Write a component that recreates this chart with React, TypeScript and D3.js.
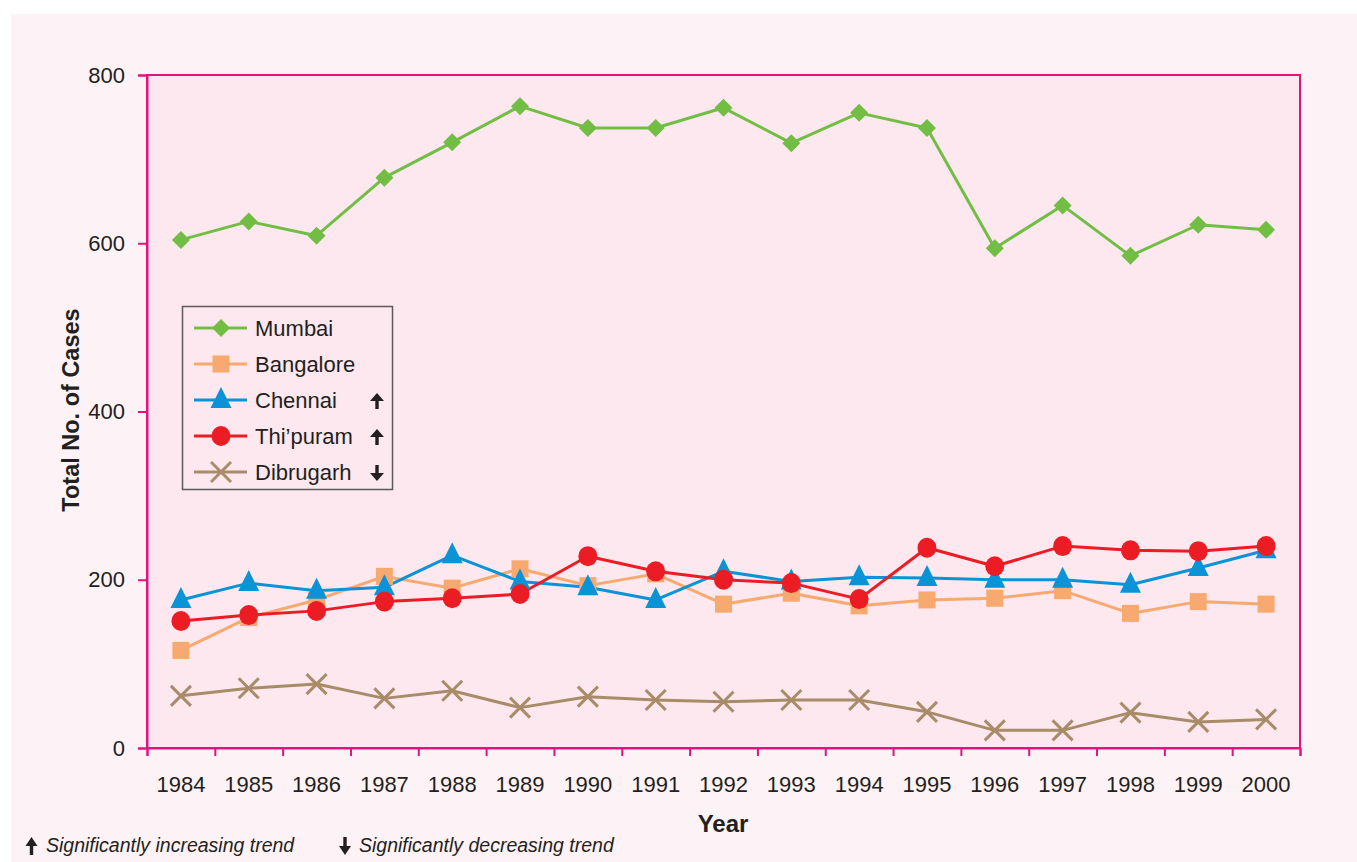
import React, { useRef, useEffect } from 'react';
import * as d3 from 'd3';

const years = ['1984', '1985', '1986', '1987', '1988', '1989', '1990', '1991', '1992', '1993', '1994', '1995', '1996', '1997', '1998', '1999', '2000'];
const mumbai = [604, 626, 609, 678, 720, 763, 737, 737, 761, 719, 755, 737, 594, 645, 585, 622, 616];
const bangalore = [116, 155, 176, 204, 190, 213, 193, 207, 171, 184, 169, 176, 178, 187, 160, 174, 171];
const chennai = [176, 196, 187, 191, 229, 198, 191, 176, 210, 198, 203, 202, 200, 200, 194, 214, 235];
const thiruvananthapuram = [151, 158, 163, 174, 178, 183, 228, 210, 200, 196, 177, 238, 216, 240, 235, 234, 240];
const dibrugarh = [62, 71, 76, 59, 68, 48, 61, 57, 55, 57, 57, 43, 21, 21, 42, 31, 34];
const yTicks = [0, 200, 400, 600, 800];

const FONT = '"Liberation Sans", Arial, sans-serif';
const AXIS = '#e0147f';
const INK = '#231f20';

const series = [
  { name: 'Mumbai', values: mumbai, color: '#72be44', symbol: 'diamond', trend: '' },
  { name: 'Bangalore', values: bangalore, color: '#f8a970', symbol: 'square', trend: '' },
  { name: 'Chennai', values: chennai, color: '#0a93d6', symbol: 'triangle', trend: 'up' },
  { name: 'Thi\u2019puram', values: thiruvananthapuram, color: '#ec1c24', symbol: 'circle', trend: 'up' },
  { name: 'Dibrugarh', values: dibrugarh, color: '#a88b68', symbol: 'cross', trend: 'down' },
];

// draws a marker centred on (0,0) inside g
function drawMarker(g: any, symbol: string, color: string) {
  if (symbol === 'diamond') {
    g.append('path').attr('d', 'M0,-9L9,0L0,9L-9,0Z').attr('fill', color);
  } else if (symbol === 'square') {
    g.append('rect').attr('x', -8.5).attr('y', -8.5).attr('width', 17).attr('height', 17).attr('fill', color);
  } else if (symbol === 'triangle') {
    g.append('path').attr('d', 'M0,-13L10.5,8L-10.5,8Z').attr('fill', color);
  } else if (symbol === 'circle') {
    g.append('ellipse').attr('rx', 9.5).attr('ry', 10).attr('fill', color);
  } else {
    g.append('path').attr('d', 'M-10,-10L10,10M-10,10L10,-10').attr('stroke', color).attr('stroke-width', 3).attr('fill', 'none');
  }
}

// small black trend arrow, centred on (x,y); h = height, w = head width
function arrow(g: any, x: number, y: number, dir: string, h = 16, w = 14) {
  const s = dir === 'up' ? 1 : -1;
  const a = g.append('g').attr('transform', `translate(${x},${y}) scale(1,${s})`);
  const headH = h * 0.5;
  a.append('path').attr('d', `M0,${-h / 2}L${w / 2},${-h / 2 + headH}L${-w / 2},${-h / 2 + headH}Z`).attr('fill', INK);
  a.append('rect').attr('x', -1.7).attr('y', -h / 2 + headH - 1).attr('width', 3.4).attr('height', h - headH + 1).attr('fill', INK);
}

const App = () => {
  const ref = useRef<SVGSVGElement>(null);

  useEffect(() => {
    const svg = d3.select(ref.current);
    svg.selectAll('*').remove();

    const left = 147, right = 1300, top = 75, bottom = 748;

    svg.append('rect').attr('x', 11).attr('y', 14).attr('width', 1346).attr('height', 848).attr('fill', '#fdf3f6');
    svg.append('rect').attr('x', left).attr('y', top).attr('width', right - left).attr('height', bottom - top)
      .attr('fill', '#fce8ee').attr('stroke', AXIS).attr('stroke-width', 2);

    const x = d3.scaleBand().domain(years).range([left, right]);
    const y = d3.scaleLinear().domain([0, 800]).range([bottom, top]);
    const cx = (i: number) => (x(years[i]) as number) + x.bandwidth() / 2;

    // y axis
    const ya = svg.append('g').attr('transform', `translate(${left},0)`)
      .call(d3.axisLeft(y).tickValues(yTicks).tickSize(9).tickPadding(13));
    ya.select('.domain').attr('stroke', AXIS).attr('stroke-width', 2);
    ya.selectAll('line').attr('stroke', AXIS).attr('stroke-width', 2);
    ya.selectAll('text').attr('font-family', FONT).attr('font-size', 22).attr('fill', INK);

    // x axis labels
    const xa = svg.append('g').attr('transform', `translate(0,${bottom})`)
      .call(d3.axisBottom(x).tickSize(0).tickPadding(0));
    xa.select('.domain').remove();
    xa.selectAll('text').attr('y', 44).attr('dy', null).attr('font-family', FONT).attr('font-size', 22).attr('fill', INK);

    // x axis tick marks at band boundaries
    const xb = d3.scaleLinear().domain([0, years.length]).range([left, right]);
    const xt = svg.append('g').attr('transform', `translate(0,${bottom})`)
      .call(d3.axisBottom(xb).ticks(years.length).tickSize(8).tickFormat(() => ''));
    xt.select('.domain').attr('stroke', AXIS).attr('stroke-width', 2);
    xt.selectAll('line').attr('stroke', AXIS).attr('stroke-width', 2);

    const line = d3.line<number>().x((d, i) => cx(i)).y(d => y(d));

    series.forEach(s => {
      svg.append('path').datum(s.values).attr('d', line).attr('fill', 'none')
        .attr('stroke', s.color).attr('stroke-width', 3).attr('stroke-linejoin', 'round');
    });
    series.forEach(s => {
      s.values.forEach((v, i) => {
        const g = svg.append('g').attr('transform', `translate(${cx(i)},${y(v)})`);
        drawMarker(g, s.symbol, s.color);
      });
    });

    // legend
    const lg = svg.append('g');
    lg.append('rect').attr('x', 182.5).attr('y', 306.5).attr('width', 210).attr('height', 183)
      .attr('fill', 'none').attr('stroke', '#58595b').attr('stroke-width', 1.5);
    series.forEach((s, i) => {
      const ly = 328 + i * 36;
      lg.append('line').attr('x1', 194).attr('x2', 247).attr('y1', ly).attr('y2', ly)
        .attr('stroke', s.color).attr('stroke-width', 3);
      drawMarker(lg.append('g').attr('transform', `translate(221,${ly})`), s.symbol, s.color);
      lg.append('text').attr('x', 255).attr('y', ly + 8).text(s.name)
        .attr('font-family', FONT).attr('font-size', 22).attr('fill', INK);
      if (s.trend) arrow(lg, 377, ly + 1, s.trend);
    });

    // axis titles
    svg.append('text').attr('transform', `translate(79,410) rotate(-90)`)
      .attr('text-anchor', 'middle').text('Total No. of Cases')
      .attr('font-family', FONT).attr('font-size', 23.5).attr('font-weight', 'bold').attr('fill', INK);
    svg.append('text').attr('x', 723).attr('y', 832).attr('text-anchor', 'middle').text('Year')
      .attr('font-family', FONT).attr('font-size', 24).attr('font-weight', 'bold').attr('fill', INK);

    // footnote
    arrow(svg, 31.5, 846, 'up', 18, 12);
    svg.append('text').attr('x', 46).attr('y', 852).text('Significantly increasing trend')
      .attr('font-family', FONT).attr('font-size', 19.5).attr('font-style', 'italic').attr('fill', INK);
    arrow(svg, 345, 846, 'down', 18, 12);
    svg.append('text').attr('x', 359).attr('y', 852).text('Significantly decreasing trend')
      .attr('font-family', FONT).attr('font-size', 19.5).attr('font-style', 'italic').attr('fill', INK);
  }, []);

  return (
    <svg ref={ref} width={1357} height={862} style={{ position: 'absolute', left: 0, top: 0, background: '#fff' }} />
  );
};

export default App;
